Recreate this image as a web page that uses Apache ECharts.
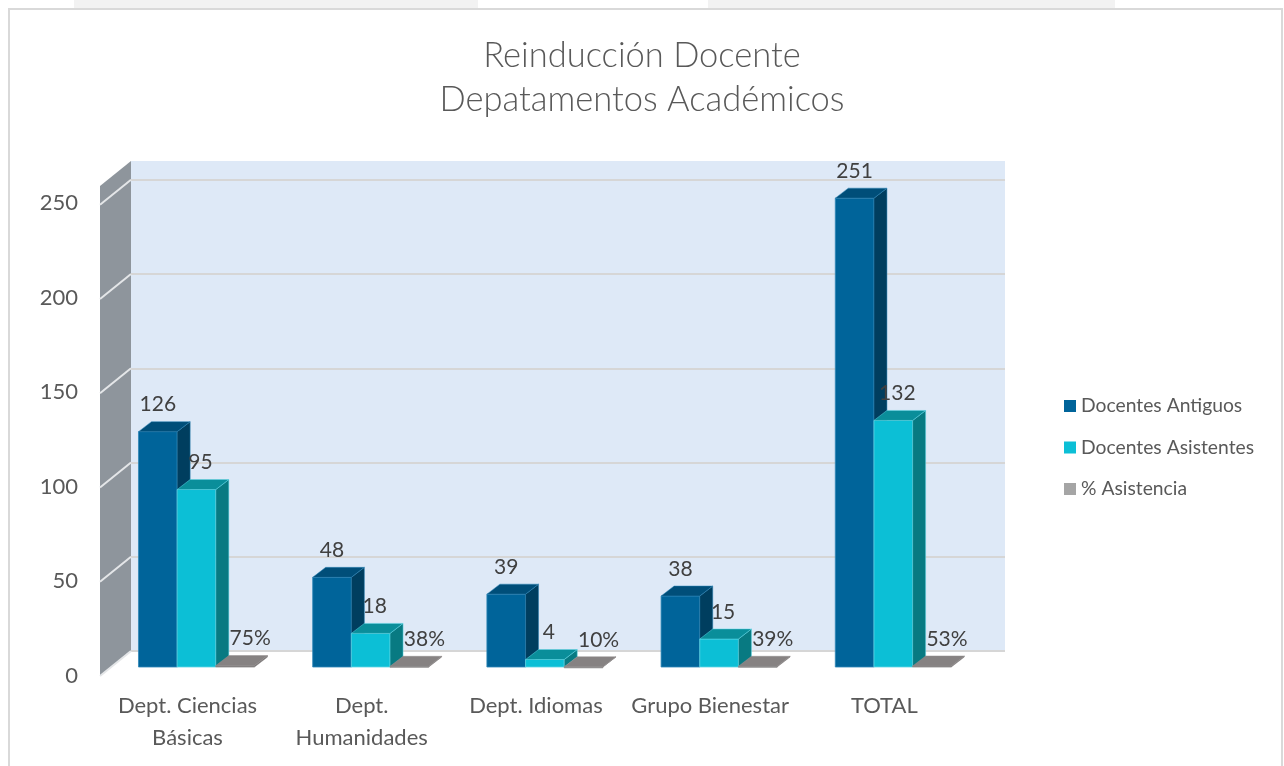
<!DOCTYPE html>
<html>
<head>
<meta charset="utf-8">
<script src="https://cdn.jsdelivr.net/npm/echarts@6/dist/echarts.min.js"></script>
<style>
  html, body { margin: 0; padding: 0; background: #fff; }
  #chart { width: 1284px; height: 766px; }
</style>
</head>
<body>
<div id="chart"></div>
<script>
// datos
const CATEGORIES = ['Dept. Ciencias\nBásicas', 'Dept.\nHumanidades', 'Dept. Idiomas', 'Grupo Bienestar', 'TOTAL'];
const ANTIGUOS = [126, 48, 39, 38, 251];
const ASISTENTES = [95, 18, 4, 15, 132];
const ASISTENCIA = [0.75, 0.38, 0.10, 0.39, 0.53];
const Y_TICKS = [0, 50, 100, 150, 200, 250];

const FONT = 'Lato, "Open Sans", sans-serif';
const DX = 13, DY = 10;       // profundidad de las barras
const WDX = 31, WDY = 25;     // profundidad de la pared izquierda

function pairs(arr) {
  return arr.map((v, i) => [i, v]);
}

function barRenderer(k, shades, fmt, labelDx) {
  return function (params, api) {
    const ci = api.value(0), v = api.value(1);
    const top = api.coord([ci, v]);
    const bot = api.coord([ci, 0]);
    const band = api.size([1, 0])[0];
    const bw = band * 0.222;
    const l = top[0] - 1.5 * bw + k * bw, r = l + bw;
    const yt = top[1], yb = bot[1];
    return {
      type: 'group',
      children: [
        { type: 'rect', shape: { x: l, y: yt, width: bw, height: Math.max(yb - yt, 1) },
          style: { fill: shades.front, stroke: shades.edge, lineWidth: 0.8 } },
        { type: 'polygon', shape: { points: [[r, yt], [r + DX, yt - DY], [r + DX, yb - DY], [r, yb]] },
          style: { fill: shades.side, stroke: shades.edge, lineWidth: 0.5 } },
        { type: 'polygon', shape: { points: [[l, yt], [l + DX, yt - DY], [r + DX, yt - DY], [r, yt]] },
          style: { fill: shades.top, stroke: shades.edge, lineWidth: 0.5 } },
        { type: 'text', z2: 50,
          style: { text: fmt(v), x: (l + r) / 2 + labelDx, y: yt - 27, align: 'center', verticalAlign: 'middle',
                   fill: '#404040', font: '21px ' + FONT } }
      ]
    };
  };
}

function wallRenderer(params, api) {
  const cs = params.coordSys;
  const x0 = cs.x, yTop = cs.y, yBot = cs.y + cs.height;
  const children = [
    { type: 'polygon',
      shape: { points: [[x0, yTop], [x0, yBot], [x0 - WDX, yBot + WDY], [x0 - WDX, yTop + WDY]] },
      style: { fill: '#8e959c' } }
  ];
  Y_TICKS.forEach(t => {
    const y = api.coord([0, t])[1];
    children.push({ type: 'line', shape: { x1: x0, y1: y, x2: x0 - WDX, y2: y + WDY },
      style: { stroke: '#e4e6e8', lineWidth: 2 } });
  });
  return { type: 'group', children: children };
}

const chart = echarts.init(document.getElementById('chart'));
chart.setOption({
  animation: false,
  backgroundColor: '#fff',
  title: {
    text: 'Reinducción Docente\nDepatamentos Académicos',
    left: 'center',
    top: 29,
    textStyle: { fontFamily: FONT, fontWeight: 300, fontSize: 34.5, lineHeight: 44, color: '#595959' }
  },
  legend: {
    orient: 'vertical',
    left: 1064,
    top: 396,
    padding: 0,
    itemWidth: 12,
    itemHeight: 12,
    itemGap: 21.5,
    icon: 'rect',
    data: ['Docentes Antiguos', 'Docentes Asistentes', '% Asistencia'],
    textStyle: { fontFamily: FONT, fontSize: 19.3, lineHeight: 20, color: '#595959' }
  },
  graphic: [
    { type: 'rect', shape: { x: 74, y: 0, width: 404, height: 8 }, style: { fill: '#f2f2f2' }, silent: true },
    { type: 'rect', shape: { x: 708, y: 0, width: 407, height: 8 }, style: { fill: '#f2f2f2' }, silent: true },
    { type: 'rect', shape: { x: 9, y: 9, width: 1273, height: 770 }, style: { fill: 'none', stroke: '#d9d9d9', lineWidth: 2 }, silent: true }
  ],
  grid: [
    // plano frontal de las barras
    { left: 109.4, right: 303.6, top: 200, bottom: 99, outerBoundsMode: 'none' },
    // pared del fondo
    { left: 131, right: 279, top: 161, bottom: 115, show: true, backgroundColor: '#dee9f7', borderWidth: 0, outerBoundsMode: 'none' },
    // borde frontal (etiquetas del eje)
    { left: 100, right: 300, top: 203, bottom: 90, outerBoundsMode: 'none' }
  ],
  xAxis: [
    { type: 'category', gridIndex: 0, data: CATEGORIES,
      axisLine: { show: false }, axisTick: { show: false },
      axisLabel: { margin: 23, padding: [0, 18, 0, 0], fontFamily: FONT, fontSize: 22, lineHeight: 32, color: '#595959', interval: 0 } },
    { type: 'value', gridIndex: 1, min: 0, max: 1, show: false },
    { type: 'value', gridIndex: 2, min: 0, max: 1, show: false }
  ],
  yAxis: [
    { type: 'value', gridIndex: 0, min: 0, max: 250, interval: 50, show: false },
    { type: 'value', gridIndex: 1, min: 0, max: 260, interval: 50,
      axisLine: { show: false }, axisTick: { show: false }, axisLabel: { show: false },
      splitLine: { show: true, showMaxLine: false, lineStyle: { color: '#d6d6d6', width: 2 } } },
    { type: 'value', gridIndex: 2, min: 0, max: 250, interval: 50,
      axisLine: { show: false }, axisTick: { show: false }, splitLine: { show: false },
      axisLabel: { margin: 22, fontFamily: FONT, fontSize: 22, color: '#595959' } }
  ],
  series: [
    { type: 'custom', name: 'pared', xAxisIndex: 1, yAxisIndex: 1, silent: true, z: 1,
      data: [[0, 0]], renderItem: wallRenderer },
    { type: 'custom', name: 'Docentes Antiguos', xAxisIndex: 0, yAxisIndex: 0,
      itemStyle: { color: '#00649a' }, data: pairs(ANTIGUOS),
      renderItem: barRenderer(0, { front: '#00649a', side: '#003e5f', top: '#004e79', edge: '#2f86b8' }, v => String(v), 0) },
    { type: 'custom', name: 'Docentes Asistentes', xAxisIndex: 0, yAxisIndex: 0,
      itemStyle: { color: '#0cbfd6' }, data: pairs(ASISTENTES),
      renderItem: barRenderer(1, { front: '#0cbfd6', side: '#087a82', top: '#0a8e9a', edge: '#5fd6e6' }, v => String(v), 4) },
    { type: 'custom', name: '% Asistencia', xAxisIndex: 0, yAxisIndex: 0,
      itemStyle: { color: '#a5a5a5' }, data: pairs(ASISTENCIA),
      renderItem: barRenderer(2, { front: '#7d7a7a', side: '#6c6969', top: '#868282', edge: '#8e8b8b' }, v => Math.round(v * 100) + '%', 15) }
  ]
});
</script>
</body>
</html>
